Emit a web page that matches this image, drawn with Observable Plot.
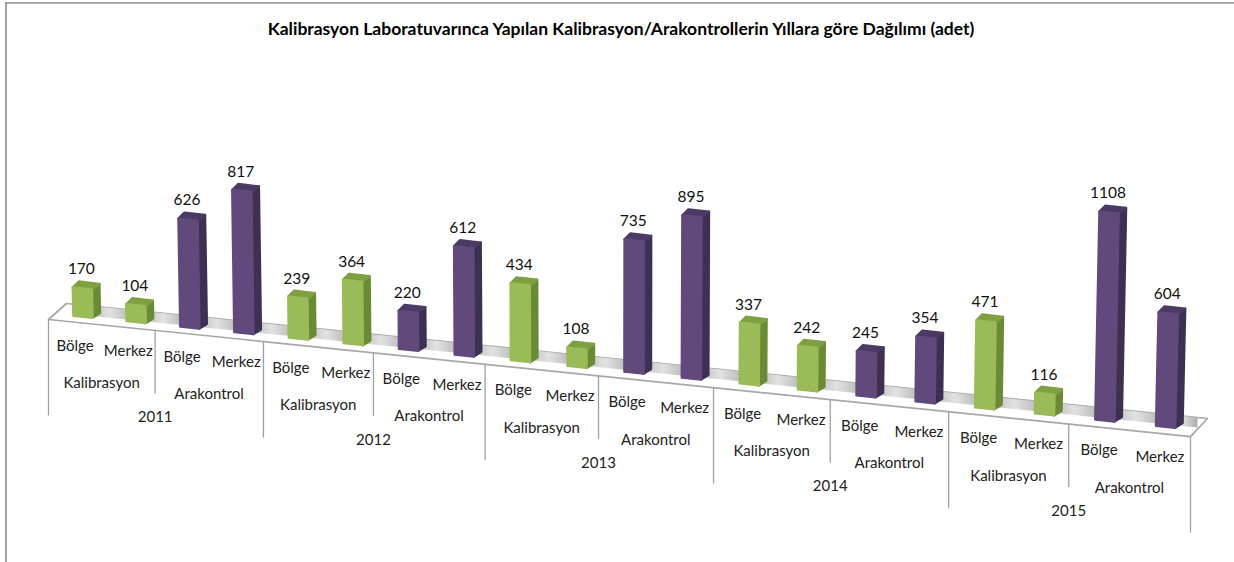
<!DOCTYPE html>
<html><head><meta charset="utf-8">
<script src="https://cdn.jsdelivr.net/npm/d3@7"></script>
<script src="https://cdn.jsdelivr.net/npm/@observablehq/plot@0.6"></script>
<style>html,body{margin:0;padding:0;background:#fff}svg{display:block}</style>
</head><body><div id="chart"></div>
<script>
const title = "Kalibrasyon Laboratuvarınca Yapılan Kalibrasyon/Arakontrollerin Yıllara göre Dağılımı (adet)";
const years = ["2011","2012","2013","2014","2015"];
const groups = ["Kalibrasyon","Arakontrol"];
const units = ["Bölge","Merkez"];
const kalibrasyonBolge = [170,239,434,337,471];
const kalibrasyonMerkez = [104,364,108,242,116];
const arakontrolBolge = [626,220,735,245,1108];
const arakontrolMerkez = [817,612,895,354,604];

// Flatten year > group > unit into the 20 slots of the axis
const bars = years.flatMap((year,y) => [
  {year,group:0,unit:0,value:kalibrasyonBolge[y]},
  {year,group:0,unit:1,value:kalibrasyonMerkez[y]},
  {year,group:1,unit:0,value:arakontrolBolge[y]},
  {year,group:1,unit:1,value:arakontrolMerkez[y]}
]).map((d,i) => ({...d,i}));

// Oblique perspective: slot position -> plane coordinates
const X = t => 48 + 52.9*t + 0.21*t*t;
const slot = i => i + 0.65 - 0.003*i;
const frontEdge = x => 319 + 0.1025*(x-48);
const backEdge = x => 303 + 0.1008*(x-66);
const barFoot = x => 316.8 + 0.1016*(x-82.5);
const scaleAt = t => 0.172 + 0.0009*t;

const faces = [], valueLabels = [];
for (const d of bars) {
  const t = slot(d.i), xc = X(t), yb = barFoot(xc), h = scaleAt(t)*d.value;
  const lean = h*(xc-600)*4e-5, w = 9.6;
  const BL=[xc-w,yb-1.6], BR=[xc+w,yb+0.4], TR=[xc+w+lean,yb+1.6-h], TL=[xc-w+lean,yb-0.4-h];
  const S = d.group===0 ? "g" : "p";
  const poly = (face,pts) => [...pts,pts[0]].forEach(([x,y]) => faces.push({id:d.i+face,key:S+face,x,y}));
  poly("side",[BR,[BR[0]+7.4,BR[1]-4.6],[TR[0]+7.4,TR[1]-5.6],TR]);
  poly("top",[TL,TR,[TR[0]+7.4,TR[1]-5.6],[TL[0]+6,TL[1]-6]]);
  poly("front",[BL,BR,TR,TL]);
  valueLabels.push({x:xc+lean-1,y:yb-h-18.5,text:String(d.value)});
}

// Floor of the chart
const floorOutline = [[48,frontEdge(48)],[1190,frontEdge(1190)],[1207,backEdge(1207)],[66,backEdge(66)],[48,frontEdge(48)]]
  .map(([x,y]) => ({x,y}));
const band = d3.range(-1,20).flatMap(i => {
  const a = Math.max(76,X(slot(i))), b = Math.min(1197,X(slot(i+1)));
  return [[a,backEdge(a)],[b,backEdge(b)],[b,backEdge(b)+10],[a,backEdge(a)+10],[a,backEdge(a)]]
    .map(([x,y]) => ({id:i,x,y}));
});

// Hierarchical category axis
const ticks = d3.range(0,21,2).map(t => {
  const x = X(t), y = frontEdge(x);
  return {x,y1:y,y2:y+(t%4===0?96:63)};
});
const unitLabels = bars.map(d => { const x = X(d.i+0.5); return {x,y:frontEdge(x)+23.5,text:units[d.unit]}; });
const groupLabels = d3.range(0,10).map(k => { const x = X(2*k+1); return {x,y:frontEdge(x)+58,text:groups[k%2]}; });
const yearLabels = years.map((text,k) => { const x = X(4*k+2); return {x,y:frontEdge(x)+87,text}; });

const gradient = () => {
  const defs = d3.create("svg:defs");
  const g = defs.append("linearGradient").attr("id","floorShade");
  [[0,"#adadad"],[0.5,"#e2e2e2"],[1,"#adadad"]].forEach(([o,c]) =>
    g.append("stop").attr("offset",o).attr("stop-color",c));
  return defs.node();
};

const font = {fontFamily:"Lato, 'Open Sans', sans-serif"};
const chart = Plot.plot({
  width:1234,height:562,margin:0,
  x:{domain:[0,1234],range:[0,1234],axis:null},
  y:{domain:[562,0],range:[562,0],axis:null},
  color:{
    domain:["gfront","gside","gtop","pfront","pside","ptop"],
    range:["#9bbb59","#6c8a35","#7fa041","#604a7b","#3d3053","#4b3a64"]
  },
  style:{background:"#fff",...font},
  marks:[
    gradient,
    Plot.ruleX([5.5],{y1:2,y2:562,stroke:"#8c8c8c",strokeWidth:1.6}),
    Plot.ruleY([2.5],{x1:5,x2:1234,stroke:"#8c8c8c",strokeWidth:1.6}),
    Plot.line(floorOutline,{x:"x",y:"y",fill:"#fff",stroke:"#a8a8a8",strokeWidth:1.7}),
    Plot.line(band,{x:"x",y:"y",z:"id",fill:"url(#floorShade)",stroke:"none"}),
    Plot.link(ticks,{x1:"x",x2:"x",y1:"y1",y2:"y2",stroke:"#a0a0a0",strokeWidth:1.3}),
    Plot.line(faces,{x:"x",y:"y",z:"id",fill:"key",stroke:"key",strokeWidth:2.4,strokeLinejoin:"round"}),
    Plot.text(valueLabels,{x:"x",y:"y",text:"text",fontSize:15.5,fill:"#111"}),
    Plot.text(unitLabels,{x:"x",y:"y",text:"text",fontSize:15,fill:"#222"}),
    Plot.text(groupLabels,{x:"x",y:"y",text:"text",fontSize:15,fill:"#222"}),
    Plot.text(yearLabels,{x:"x",y:"y",text:"text",fontSize:15,fill:"#222"}),
    Plot.text([title],{x:()=>620.5,y:()=>29,text:d=>d,fontSize:17.5,fontWeight:"bold",fill:"#000"})
  ]
});
document.getElementById("chart").append(chart);
</script>
</body></html>
